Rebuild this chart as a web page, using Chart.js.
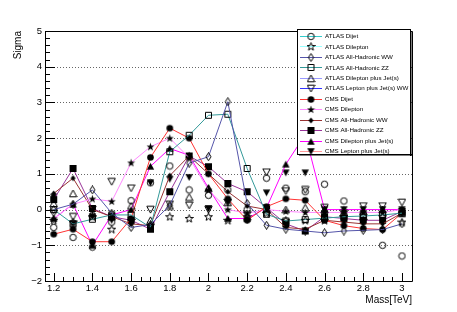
<!DOCTYPE html>
<html>
<head>
<meta charset="utf-8">
<script src="https://cdn.jsdelivr.net/npm/chart.js@4/dist/chart.umd.min.js"></script>
<style>
html,body{margin:0;padding:0;background:#fff;}
#wrap{width:457px;height:312px;position:relative;}
</style>
</head>
<body>
<div id="wrap"><canvas id="c" width="457" height="312"></canvas></div>
<script>
// ---- data ----
const mass = [1.2,1.3,1.4,1.5,1.6,1.7,1.8,1.9,2.0,2.1,2.2,2.3,2.4,2.5,2.6,2.7,2.8,2.9,3.0];
const xTickValues = [1.2,1.4,1.6,1.8,2.0,2.2,2.4,2.6,2.8,3.0];
const xTickLabels = ["1.2","1.4","1.6","1.8","2","2.2","2.4","2.6","2.8","3"];
const yTickValues = [-2,-1,0,1,2,3,4,5];
const yTickLabels = ["\u22122","\u22121","0","1","2","3","4","5"];

const atlasDijet    = [-0.5,-0.78,-1.05,-0.35,0.25,0.75,1.22,0.55,0.4,0.55,0.0,0.88,0.6,0.5,0.71,0.24,-0.2,-1.0,-1.3];
const atlasDilepton = [-0.3,-0.35,-0.2,-0.55,-0.3,-0.45,-0.2,-0.25,-0.2,-0.3,-0.2,-0.1,-0.3,-0.3,-0.3,-0.2,-0.3,-0.2,-0.35];
const atlasHadWW    = [0,0.15,0.55,-0.1,-0.5,-0.42,0.12,1.3,1.48,3.02,0.17,-0.44,-0.55,-0.6,-0.65,-0.6,-0.58,-0.56,-0.4];
const atlasHadZZ    = [0,-0.4,-0.27,-0.15,-0.15,-0.5,1.62,2.08,2.64,2.67,1.15,-0.13,-0.32,-0.28,-0.24,-0.2,-0.18,-0.15,-0.1];
const atlasDilJets  = [0.17,0.45,-0.1,-0.2,0.1,-0.3,0.1,0.35,0.6,0.2,-0.2,0.0,0.0,0.05,0.0,-0.1,-0.05,0.0,-0.1];
const atlasLepJets  = [-0.1,-0.2,0.0,0.78,0.6,0.0,0.15,0.12,0.0,0.2,-0.15,1.05,0.52,0.55,0.05,-0.1,0.1,0.1,0.2];
const cmsDijet      = [-0.69,-0.55,-0.9,-0.9,-0.25,1.46,2.28,2.0,1.0,0.3,-0.3,0.08,0.3,0.26,-0.3,-0.45,-0.53,-0.56,-0.1];
const cmsDilepton   = [-0.25,0.15,0.3,0.23,1.31,1.76,2.0,1.45,0.55,0.0,-0.1,0.0,-0.05,-0.08,-0.08,-0.08,-0.08,-0.08,0.0];
const cmsHadWW      = [0.45,0.88,0.0,-0.2,-0.4,-0.45,0.95,1.5,1.0,0.5,0.1,0.0,-0.5,-0.55,-0.3,-0.35,-0.4,-0.4,-0.1];
const cmsHadZZ      = [0.28,1.15,0.03,-0.2,-0.3,-0.55,0.5,1.5,1.2,0.73,0.5,0.05,-0.4,-0.6,-0.2,-0.25,-0.3,-0.3,-0.05];
const cmsDilJets    = [-0.25,0.15,-1.0,-0.15,0.0,1.21,1.71,1.52,0.6,-0.25,-0.25,0.05,1.27,2.1,0,0,0,0,0];
const cmsLepJets    = [0.35,-0.4,-0.2,-0.3,-0.4,0.75,0.85,0.9,0.03,0.2,-0.3,0.47,1.03,1.03,0,0,0,0,0];

const seriesNames = ["ATLAS Dijet","ATLAS Dilepton","ATLAS All-Hadronic WW","ATLAS All-Hadronic ZZ",
  "ATLAS Dilepton plus Jet(s)","ATLAS Lepton plus Jet(s) WW","CMS Dijet","CMS Dilepton",
  "CMS All-Hadronic WW","CMS All-Hadronic ZZ","CMS Dilepton plus Jet(s)","CMS Lepton plus Jet(s)"];
const seriesValues = [atlasDijet,atlasDilepton,atlasHadWW,atlasHadZZ,atlasDilJets,atlasLepJets,
  cmsDijet,cmsDilepton,cmsHadWW,cmsHadZZ,cmsDilJets,cmsLepJets];

// ---- styles ----
const lineColors = ["#33cccc","#99ffff","#5555aa","#339999","#9999ff","#3333ff",
  "#ff3333","#ff88ff","#993333","#993399","#ff00ff","#ff9999"];
const markerKinds = ["circleOpen","starOpen","diamondOpen","squareOpen","triOpen","invTriOpen",
  "circle","star","diamond","square","tri","invTri"];
const showLines = [false,false,true,true,false,false,true,true,true,true,true,false];

function makeMarker(kind){
  const s = 9, c = document.createElement('canvas');
  c.width = s; c.height = s;
  const g = c.getContext('2d');
  const open = kind.endsWith('Open');
  const k = kind.replace('Open','');
  g.strokeStyle = '#000'; g.fillStyle = '#000'; g.lineWidth = 1;
  g.beginPath();
  const m = s/2;
  if(k==='circle'){ g.arc(m,m,open?3.2:3.3,0,Math.PI*2); }
  else if(k==='square'){ if(open) g.rect(1.5,1.5,6,6); else g.rect(1,1,7,7); }
  else if(k==='diamond'){ if(open){g.moveTo(m,0.5);g.lineTo(m+2.5,m);g.lineTo(m,s-0.5);g.lineTo(m-2.5,m);} else {g.moveTo(m,1.5);g.lineTo(m+2.5,m);g.lineTo(m,s-1.5);g.lineTo(m-2.5,m);} g.closePath(); }
  else if(k==='tri'){ g.moveTo(m,1); g.lineTo(s-0.8,s-1.2); g.lineTo(0.8,s-1.2); g.closePath(); }
  else if(k==='invTri'){ g.moveTo(m,s-1); g.lineTo(s-0.8,1.2); g.lineTo(0.8,1.2); g.closePath(); }
  else if(k==='star'){
    for(let i=0;i<10;i++){ const r = i%2?1.7:4.2; const a = -Math.PI/2 + i*Math.PI/5;
      const px = m + r*Math.cos(a), py = m + 0.3 + r*Math.sin(a);
      if(i===0) g.moveTo(px,py); else g.lineTo(px,py); }
    g.closePath();
  }
  if(open) g.stroke(); else g.fill();
  return c;
}

const datasets = seriesValues.map((vals,i)=>({
  label: seriesNames[i],
  data: mass.map((m,j)=>({x:m,y:vals[j]})),
  borderColor: lineColors[i],
  backgroundColor: lineColors[i],
  borderWidth: 1,
  showLine: showLines[i],
  pointStyle: makeMarker(markerKinds[i]),
  pointRadius: 4,
  pointHoverRadius: 4,
  tension: 0
}));

const X_MIN = 1.155, X_MAX = 3.052, Y_MIN = -2, Y_MAX = 5;

const gridPlugin = {
  id: 'dotgrid',
  beforeDatasetsDraw(chart){
    const {ctx, chartArea:a, scales} = chart;
    ctx.save();
    ctx.strokeStyle = '#666'; ctx.lineWidth = 1;
    ctx.setLineDash([1,2]);
    ctx.beginPath();
    yTickValues.forEach(v=>{
      if(v<=Y_MIN || v>=Y_MAX) return;
      const y = Math.round(scales.y.getPixelForValue(v))+0.5;
      ctx.moveTo(a.left, y); ctx.lineTo(a.right, y);
    });
    ctx.stroke();
    ctx.restore();
  }
};

const framePlugin = {
  id: 'frame',
  afterDraw(chart){
    const {ctx, chartArea:a, scales} = chart;
    const xs = scales.x, ys = scales.y;
    ctx.save();
    ctx.strokeStyle = '#000'; ctx.lineWidth = 1;
    ctx.beginPath();
    for(let v=Y_MIN; v<=Y_MAX+1e-9; v+=0.2){
      const y = Math.round(ys.getPixelForValue(v))+0.5;
      const major = Math.abs(v-Math.round(v))<1e-6;
      ctx.moveTo(a.left, y); ctx.lineTo(a.left + (major?10:5), y);
    }
    for(let i=0;i<=37;i++){
      const v = 1.15 + i*0.05;
      if(v < X_MIN-1e-9 || v > X_MAX) continue;
      const x = Math.round(xs.getPixelForValue(v))+0.5;
      const r = Math.round(v*100)%20===0;
      ctx.moveTo(x, a.bottom); ctx.lineTo(x, a.bottom - (r?8:4));
    }
    ctx.stroke();
    ctx.beginPath();
    ctx.rect(Math.round(a.left)+0.5, Math.round(a.top)+0.5, Math.round(a.right-a.left), Math.round(a.bottom-a.top));
    ctx.stroke();
    ctx.fillStyle = '#000';
    ctx.font = '10px "Liberation Sans", Arial, sans-serif';
    ctx.textAlign = 'right'; ctx.textBaseline = 'alphabetic';
    ctx.fillText('Mass[TeV]', a.right, 303);
    ctx.save();
    ctx.translate(21, a.top);
    ctx.rotate(-Math.PI/2);
    ctx.textAlign = 'right';
    ctx.fillText('Sigma', 0, 0);
    ctx.restore();
    // legend
    const L = 297, T = 29, R = 410, B = 154;
    ctx.fillStyle = '#fff';
    ctx.fillRect(L, T, R-L, B-T);
    ctx.fillStyle = '#000';
    ctx.fillRect(R, T+2, 1.5, B-T);
    ctx.fillRect(L+2, B, R-L, 1.5);
    ctx.strokeStyle = '#000'; ctx.lineWidth = 1;
    ctx.strokeRect(L+0.5, T+0.5, R-L, B-T);
    ctx.font = '6.2px "Liberation Sans", Arial, sans-serif';
    ctx.textAlign = 'left'; ctx.textBaseline = 'middle';
    for(let i=0;i<seriesNames.length;i++){
      const yy = 36 + i*10.45;
      ctx.strokeStyle = lineColors[i]; ctx.lineWidth = 1;
      ctx.beginPath(); ctx.moveTo(300, Math.round(yy)+0.5); ctx.lineTo(322, Math.round(yy)+0.5); ctx.stroke();
      const mk = datasets[i].pointStyle;
      ctx.drawImage(mk, 311 - mk.width/2, Math.round(yy)+0.5 - mk.height/2);
      ctx.fillStyle = '#000';
      ctx.fillText(seriesNames[i], 325, yy+0.5);
    }
    ctx.restore();
  }
};

new Chart(document.getElementById('c'), {
  type: 'scatter',
  data: { datasets },
  options: {
    responsive: false,
    animation: false,
    devicePixelRatio: 1,
    layout: { padding: { top: 31, right: 45, left: 0, bottom: 0 } },
    plugins: { legend: { display: false }, tooltip: { enabled: false } },
    scales: {
      x: {
        type: 'linear', min: X_MIN, max: X_MAX,
        afterBuildTicks: s => { s.ticks = xTickValues.map(v=>({value:v})); },
        afterFit: s => { s.height = 31; },
        grid: { display: false, drawTicks: false },
        border: { display: false },
        ticks: {
          padding: 2, color: '#000', maxRotation: 0, autoSkip: false,
          font: { family: '"Liberation Sans", Arial, sans-serif', size: 9.5 },
          callback: (v) => { const i = xTickValues.findIndex(t=>Math.abs(t-v)<1e-6); return i>=0 ? xTickLabels[i] : ''; }
        }
      },
      y: {
        type: 'linear', min: Y_MIN, max: Y_MAX,
        afterBuildTicks: s => { s.ticks = yTickValues.map(v=>({value:v})); },
        afterFit: s => { s.width = 45; },
        grid: { display: false, drawTicks: false },
        border: { display: false },
        ticks: {
          padding: 3, color: '#000', autoSkip: false,
          font: { family: '"Liberation Sans", Arial, sans-serif', size: 9.5 },
          callback: (v) => { const i = yTickValues.findIndex(t=>Math.abs(t-v)<1e-6); return i>=0 ? yTickLabels[i] : ''; }
        }
      }
    }
  },
  plugins: [gridPlugin, framePlugin]
});
</script>
</body>
</html>
